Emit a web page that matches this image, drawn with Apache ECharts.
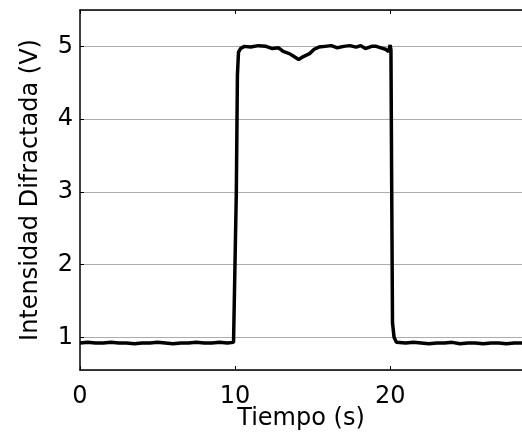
<!DOCTYPE html>
<html>
<head>
<meta charset="utf-8">
<script src="https://cdn.jsdelivr.net/npm/echarts@6/dist/echarts.min.js"></script>
<style>
  html, body { margin: 0; padding: 0; background: #fff; }
  #chart { width: 522px; height: 435px; }
</style>
</head>
<body>
<div id="chart"></div>
<script>
  // tiempo (s) y voltaje
  let tiempo = [
    0, 0.5, 1, 1.5, 2, 2.5, 3, 3.5, 4, 4.5, 5, 5.5, 6, 6.5, 7, 7.5, 8, 8.5, 9, 9.5, 9.9,
    10.0, 10.08, 10.15, 10.22, 10.35, 10.6, 11, 11.5, 12, 12.4, 12.8, 13.1, 13.5, 13.8,
    14.1, 14.4, 14.8, 15.1, 15.4, 15.8, 16.2, 16.6, 17, 17.4, 17.8, 18.1, 18.4, 18.8,
    19.1, 19.4, 19.7, 19.9, 20.0, 20.05, 20.1, 20.15, 20.25, 20.4,
    21, 21.5, 22, 22.5, 23, 23.5, 24, 24.5, 25, 25.5, 26, 26.5, 27, 27.5, 28, 28.5
  ];
  let intensidad = [
    0.92, 0.93, 0.92, 0.92, 0.93, 0.92, 0.92, 0.91, 0.92, 0.92, 0.93, 0.92, 0.91, 0.92, 0.92, 0.93, 0.92, 0.92, 0.93, 0.92, 0.93,
    0.95, 3.0, 4.6, 4.92, 4.97, 5.0, 4.99, 5.01, 5.0, 4.97, 4.98, 4.93, 4.9, 4.86,
    4.82, 4.86, 4.9, 4.96, 4.99, 5.0, 5.01, 4.98, 5.0, 5.01, 4.99, 5.01, 4.97, 5.0,
    5.0, 4.98, 4.96, 4.93, 5.02, 4.95, 3.0, 1.2, 1.0, 0.93,
    0.92, 0.93, 0.92, 0.91, 0.92, 0.92, 0.93, 0.91, 0.92, 0.92, 0.91, 0.92, 0.92, 0.91, 0.92, 0.92
  ];

  let fuente = 'DejaVu Sans, Liberation Sans, sans-serif';
  let data = [];
  for (let i = 0; i < tiempo.length; i++) {
    data.push([tiempo[i], intensidad[i]]);
  }

  let myChart = echarts.init(document.getElementById('chart'));
  myChart.setOption({
    animation: false,
    grid: {
      left: 80,
      right: 0,
      top: 10,
      bottom: 65,
      containLabel: false,
      outerBoundsMode: 'none'
    },
    xAxis: [
      {
        type: 'value',
        position: 'bottom',
        min: 0,
        max: 28.5,
        interval: 10,
        name: 'Tiempo (s)',
        nameLocation: 'middle',
        nameGap: 37,
        nameMoveOverlap: false,
        nameTextStyle: {
          color: '#000',
          fontSize: 24,
          fontFamily: fuente
        },
        axisLine: {
          lineStyle: { color: '#000', width: 1.5 }
        },
        axisTick: {
          inside: true,
          length: 4,
          lineStyle: { color: '#000' }
        },
        axisLabel: {
          color: '#000',
          fontSize: 24,
          fontFamily: fuente,
          margin: 15,
          showMaxLabel: false
        },
        splitLine: { show: false }
      },
      {
        type: 'value',
        position: 'top',
        min: 0,
        max: 28.5,
        interval: 10,
        axisLine: {
          lineStyle: { color: '#000', width: 1.5 }
        },
        axisTick: {
          inside: true,
          length: 4,
          lineStyle: { color: '#000' }
        },
        axisLabel: { show: false },
        splitLine: { show: false }
      }
    ],
    yAxis: {
      type: 'value',
      min: 0.55,
      max: 5.5,
      splitNumber: 5,
      name: 'Intensidad Difractada (V)',
      nameLocation: 'middle',
      nameGap: 37,
      nameMoveOverlap: false,
      nameTextStyle: {
        color: '#000',
        fontSize: 24,
        fontFamily: fuente
      },
      axisLine: {
        show: true,
        lineStyle: { color: '#000', width: 1.5 }
      },
      axisTick: {
        show: true,
        inside: true,
        length: 4,
        lineStyle: { color: '#000' }
      },
      axisLabel: {
        color: '#000',
        fontSize: 24,
        fontFamily: fuente,
        margin: 7,
        showMinLabel: false,
        showMaxLabel: false
      },
      splitLine: {
        show: true,
        lineStyle: { color: '#acacac', width: 1 }
      }
    },
    series: [
      {
        type: 'line',
        data: data,
        showSymbol: false,
        lineStyle: {
          color: '#000',
          width: 3.5
        }
      }
    ]
  });
</script>
</body>
</html>
